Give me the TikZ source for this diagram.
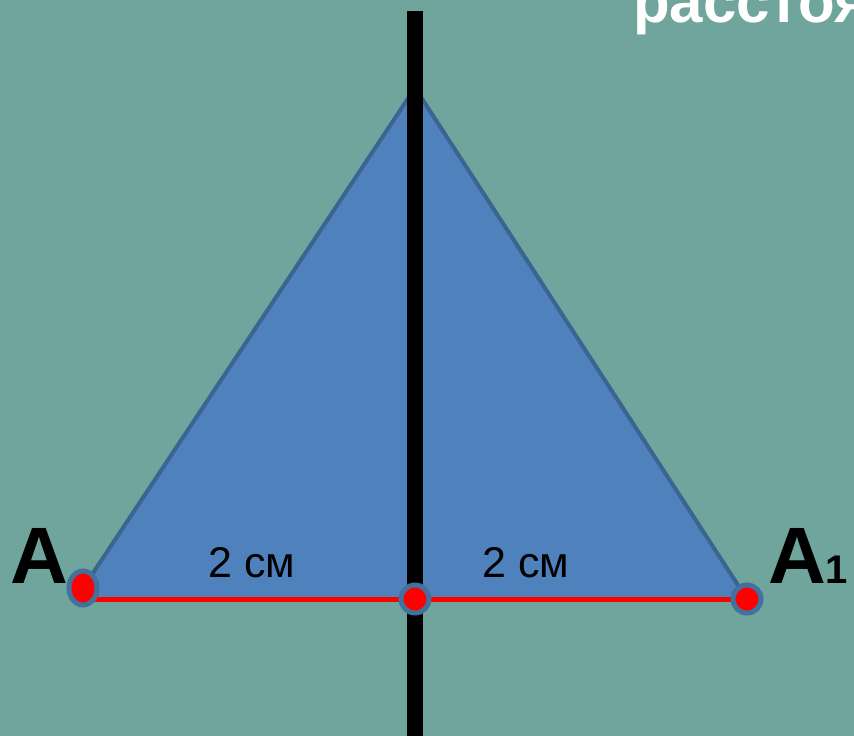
\documentclass[tikz,border=0pt]{standalone}
\usepackage{fontspec}
\usetikzlibrary{shapes.geometric}
\setmainfont{Liberation Sans}
\definecolor{chalk}{HTML}{6FA59D}
\definecolor{trifill}{HTML}{4F81BD}
\definecolor{triedge}{HTML}{3B6491}
\definecolor{ringblue}{HTML}{41719C}
\tikzset{
    dot/.style={circle, fill=red, draw=ringblue, line width=5, minimum size=28, inner sep=0},
    letter/.style={anchor=base west, inner sep=0, font=\fontsize{80}{80}\selectfont\bfseries},
    lenlabel/.style={anchor=base west, inner sep=0, font=\fontsize{43}{43}\selectfont}
}
\begin{document}
\begin{tikzpicture}[x=1pt, y=-1pt]
            \useasboundingbox (0, 0) rectangle (854, 736);
            \fill [chalk] (0, 0) rectangle (854, 736);
            \coordinate (apex) at (415, 88);
            \coordinate (a) at (83, 588);
            \coordinate (mid) at (415, 599);
            \coordinate (a1) at (747, 599);
            \coordinate (top) at (415, 11);
            \coordinate (bottom) at (415, 736);
            \draw
                [fill=trifill, draw=triedge, line width=4, line join=round]
                (a) -- (apex) -- (a1) -- (a |- mid) -- cycle;
            \draw
                [line width=16, black]
                (top) -- (bottom);
            \draw
                [line width=5, red]
                (a |- mid) -- (a1);
            \node[dot, ellipse, minimum width=28, minimum height=34] (pa) at (a) {};
            \node[dot] (pmid) at (mid) {};
            \node[dot] (pa1) at (a1) {};
            \node[letter] (la) at (10, 583) {A};
            \node[letter] (la1) at (768, 583) {A\fontsize{40}{40}\selectfont 1};
            \node[lenlabel] (l1) at (208, 577) {2 см};
            \node[lenlabel] (l2) at (482, 577) {2 см};
            \begin{scope}
                \clip (0, 0) rectangle (854, 736);
                \node[anchor=base west, inner sep=0, white, font=\fontsize{60}{60}\selectfont\bfseries] (title) at (633, 23) {расстоя};
            \end{scope}
        \end{tikzpicture}
\end{document}
